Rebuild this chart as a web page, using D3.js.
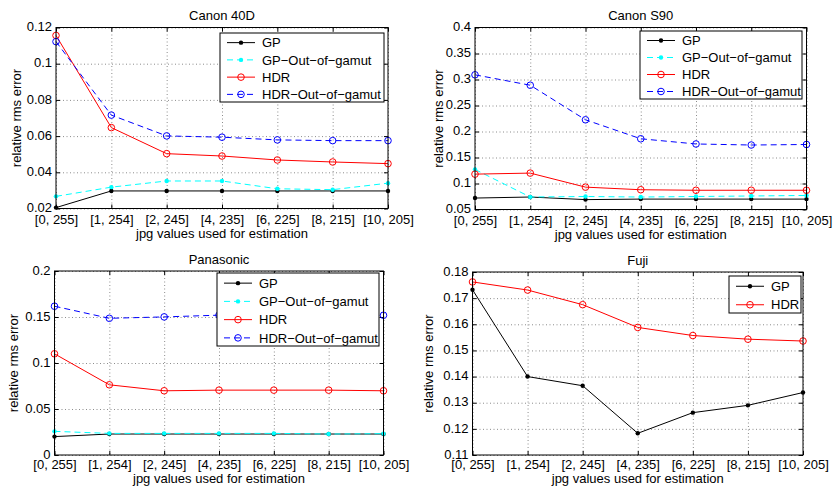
<!DOCTYPE html>
<meta charset="utf-8">
<style>
body { margin: 0; background: #fff; }
text { font-family: "Liberation Sans", Arial, sans-serif; fill: #000; }
.tick text { font-size: 13px; }
.grid line { stroke: #8c8c8c; stroke-dasharray: 1,2.5; }
.grid path { display: none; }
</style>
<script src="https://cdn.jsdelivr.net/npm/d3@7"></script>
<body>
<div id="graph"></div>
<script>
var xLabels = ["[0, 255]", "[1, 254]", "[2, 245]", "[4, 235]", "[6, 225]", "[8, 215]", "[10, 205]"];

// Canon 40D
var canon40dGP     = [0.0205, 0.0297, 0.0297, 0.0297, 0.0297, 0.0297, 0.0297];
var canon40dGPOut  = [0.0267, 0.0318, 0.0352, 0.0352, 0.0309, 0.0304, 0.0340];
var canon40dHDR    = [0.1156, 0.0647, 0.0503, 0.0490, 0.0468, 0.0457, 0.0448];
var canon40dHDROut = [0.1122, 0.0716, 0.0601, 0.0594, 0.0579, 0.0575, 0.0575];
var canon40dTicks  = [0.02, 0.04, 0.06, 0.08, 0.1, 0.12];

// Canon S90
var canonS90GP     = [0.072, 0.074, 0.069, 0.070, 0.070, 0.070, 0.070];
var canonS90GPOut  = [0.127, 0.074, 0.075, 0.074, 0.075, 0.076, 0.077];
var canonS90HDR    = [0.118, 0.120, 0.093, 0.088, 0.087, 0.087, 0.087];
var canonS90HDROut = [0.309, 0.289, 0.2225, 0.186, 0.176, 0.174, 0.175];
var canonS90Ticks  = [0.05, 0.1, 0.15, 0.2, 0.25, 0.3, 0.35, 0.4];

// Panasonic
var panasonicGP     = [0.0200, 0.0228, 0.0228, 0.0228, 0.0228, 0.0228, 0.0228];
var panasonicGPOut  = [0.0257, 0.0235, 0.0235, 0.0235, 0.0235, 0.0228, 0.0232];
var panasonicHDR    = [0.1100, 0.0763, 0.0698, 0.0705, 0.0705, 0.0705, 0.0698];
var panasonicHDROut = [0.1617, 0.1486, 0.1501, 0.1520, 0.1530, 0.1520, 0.1519];
var panasonicTicks  = [0, 0.05, 0.1, 0.15, 0.2];

// Fuji
var fujiGP    = [0.1732, 0.1400, 0.1365, 0.1183, 0.1262, 0.1290, 0.1339];
var fujiHDR   = [0.1762, 0.1731, 0.1675, 0.1588, 0.1557, 0.1543, 0.1536];
var fujiTicks = [0.11, 0.12, 0.13, 0.14, 0.15, 0.16, 0.17, 0.18];

var OUTGP = "GP\u2212Out\u2212of\u2212gamut", OUTHDR = "HDR\u2212Out\u2212of\u2212gamut";
var styles = {};
styles["GP"]   = {color: "#000000", dash: null,  marker: "dot"};
styles[OUTGP]  = {color: "#00ffff", dash: "6,4", marker: "dot"};
styles["HDR"]  = {color: "#ff0000", dash: null,  marker: "circle"};
styles[OUTHDR] = {color: "#0000ff", dash: "6,4", marker: "circle"};

var panels = [
  {title: "Canon 40D", l: 56, r: 388, t: 27.5, b: 208.5, dom: [0.02, 0.12], ticks: canon40dTicks, ylx: 16,
   series: [["GP", canon40dGP], [OUTGP, canon40dGPOut], ["HDR", canon40dHDR], [OUTHDR, canon40dHDROut]],
   legend: {x: 220, y: 33, w: 164, h: 69}},
  {title: "Canon S90", l: 475, r: 806.5, t: 27.5, b: 209.5, dom: [0.05, 0.4], ticks: canonS90Ticks, ylx: 438,
   series: [["GP", canonS90GP], [OUTGP, canonS90GPOut], ["HDR", canonS90HDR], [OUTHDR, canonS90HDROut]],
   legend: {x: 640, y: 31, w: 162, h: 68}},
  {title: "Panasonic", l: 54.5, r: 383.5, t: 271, b: 455, dom: [0, 0.2], ticks: panasonicTicks, ylx: 13,
   series: [["GP", panasonicGP], [OUTGP, panasonicGPOut], ["HDR", panasonicHDR], [OUTHDR, panasonicHDROut]],
   legend: {x: 217, y: 273, w: 162, h: 73}},
  {title: "Fuji", l: 472.5, r: 803, t: 272, b: 455, dom: [0.11, 0.18], ticks: fujiTicks, ylx: 428,
   series: [["GP", fujiGP], ["HDR", fujiHDR]],
   legend: {x: 729, y: 276, w: 72, h: 37}}
];

var svg = d3.select("#graph").append("svg")
  .attr("width", 834).attr("height", 489);

function fmt(v) { return String(+v.toFixed(3)); }

function marker(g, kind, color, cx, cy) {
  if (kind == "dot") {
    g.append("circle").attr("cx", cx).attr("cy", cy).attr("r", 2.2)
      .style("fill", color).style("stroke", "none");
  } else {
    g.append("circle").attr("cx", cx).attr("cy", cy).attr("r", 3.3)
      .style("fill", "none").style("stroke", color).style("stroke-width", 1);
  }
}

panels.forEach(function(p) {
  var w = p.r - p.l, h = p.b - p.t;
  var x = d3.scalePoint().domain(xLabels).range([0, w]);
  var y = d3.scaleLinear().domain(p.dom).range([h, 0]);
  var g = svg.append("g").attr("transform", "translate(" + p.l + "," + p.t + ")");

  // grid
  g.append("g").attr("class", "grid")
    .call(d3.axisLeft(y).tickValues(p.ticks).tickSize(-w).tickFormat(""));
  g.append("g").attr("class", "grid")
    .call(d3.axisBottom(x).tickSize(h).tickFormat(""));

  // tick labels + inward ticks
  g.append("g").attr("class", "ax")
    .call(d3.axisLeft(y).tickValues(p.ticks).tickSize(-4).tickPadding(4).tickFormat(fmt))
    .selectAll(".tick text").attr("dy", "0.25em");
  g.append("g").attr("class", "ax").attr("transform", "translate(0," + h + ")")
    .call(d3.axisBottom(x).tickSize(-4).tickPadding(p.t < 100 ? 6.5 : 5));
  g.append("g").attr("class", "ax").attr("transform", "translate(" + w + ",0)")
    .call(d3.axisRight(y).tickValues(p.ticks).tickSize(-4).tickFormat(""));
  g.append("g").attr("class", "ax").call(d3.axisTop(x).tickSize(-4).tickFormat(""));
  g.selectAll(".domain").remove();
  g.selectAll(".ax .tick line").style("stroke", "#000");

  // series
  var line = d3.line().x(function(d, i) { return x(xLabels[i]); }).y(function(d) { return y(d); });
  p.series.forEach(function(s) {
    var st = styles[s[0]];
    g.append("path").datum(s[1]).attr("d", line)
      .style("fill", "none").style("stroke", st.color).style("stroke-width", 1)
      .style("stroke-dasharray", st.dash);
    s[1].forEach(function(v, i) { marker(g, st.marker, st.color, x(xLabels[i]), y(v)); });
  });

  // box
  g.append("rect").attr("width", w).attr("height", h)
    .style("fill", "none").style("stroke", "#000").style("stroke-width", 1);

  // labels
  svg.append("text").attr("x", p.l + w / 2).attr("y", p.t - 7.5)
    .attr("text-anchor", "middle").style("font-size", "13px").text(p.title);
  svg.append("text").attr("x", p.l + w / 2).attr("y", p.b + (p.t < 100 ? 29 : 28))
    .attr("text-anchor", "middle").style("font-size", "13px").text("jpg values used for estimation");
  svg.append("text").attr("transform", "translate(" + p.ylx + "," + (p.t + h / 2) + ") rotate(-90)")
    .attr("dy", "0.35em").attr("text-anchor", "middle").style("font-size", "13px").text("relative rms error");

  // legend
  var L = p.legend, n = p.series.length;
  var lg = svg.append("g").attr("transform", "translate(" + L.x + "," + L.y + ")");
  lg.append("rect").attr("width", L.w).attr("height", L.h)
    .style("fill", "#fff").style("stroke", "#000").style("stroke-width", 1);
  p.series.forEach(function(s, i) {
    var st = styles[s[0]];
    var ry = L.h * (i + 0.5) / n + 1;
    lg.append("line").attr("x1", 7).attr("x2", 35).attr("y1", ry).attr("y2", ry)
      .style("stroke", st.color).style("stroke-width", 1).style("stroke-dasharray", st.dash);
    marker(lg, st.marker, st.color, 21, ry);
    lg.append("text").attr("x", 42).attr("y", ry).attr("dy", "0.36em")
      .style("font-size", "13px").text(s[0]);
  });
});
</script>
</body>
</html>
